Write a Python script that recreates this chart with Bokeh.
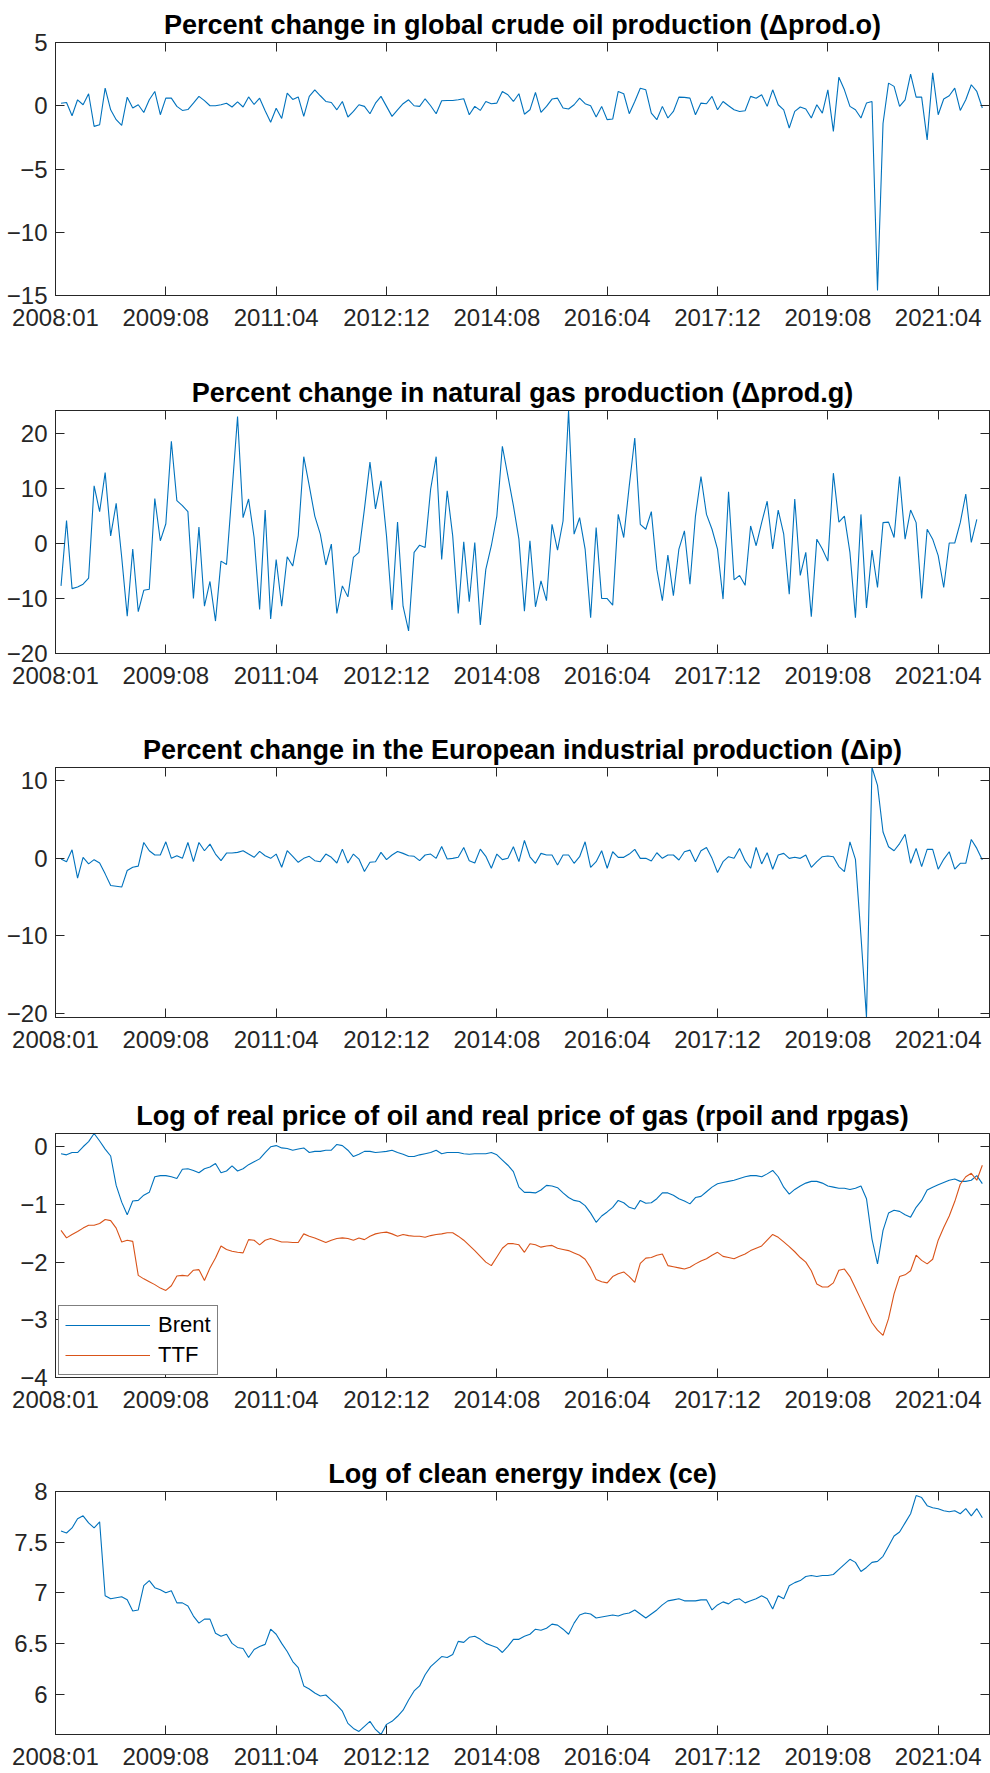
from bokeh.plotting import figure
from bokeh.layouts import column
from bokeh.models import Range1d, FixedTicker, LinearAxis, CustomJSTickFormatter
from bokeh.embed import file_html
from bokeh.resources import INLINE

# ---------------- data ----------------
tick_pos = [0, 20, 40, 60, 80, 100, 120, 140, 160]
tick_labels = ["2008:01", "2009:08", "2011:04", "2012:12", "2014:08",
               "2016:04", "2017:12", "2019:08", "2021:04"]

oil_prod = [0.2, 0.26, -0.79, 0.47, 0.08, 0.95, -1.63, -1.5, 1.39, -0.32,
            -1.1, -1.55, 0.68, -0.18, 0.08, -0.53, 0.47, 1.13, -0.71, 0.6,
            0.6, -0.05, -0.37, -0.3, 0.2, 0.74, 0.4, 0.0, 0.0, 0.08,
            0.2, -0.1, 0.3, -0.1, 0.7, 0.1, 0.6, -0.4, -1.3, -0.2,
            -1.0, 1.0, 0.5, 0.7, -0.84, 0.74, 1.26, 0.79, 0.34, 0.26,
            -0.32, 0.34, -0.89, -0.45, 0.08, -0.05, -0.63, 0.2, 0.74, -0.05,
            -0.84, -0.32, 0.16, 0.47, 0.0, -0.05, 0.55, 0.0, -0.63, 0.39,
            0.42, 0.42, 0.47, 0.55, -0.71, -0.05, -0.37, 0.34, 0.16, 0.21,
            1.13, 0.87, 0.34, 0.95, -0.67, -0.32, 1.05, -0.53, -0.05, 0.53,
            0.6, -0.18, -0.26, 0.08, 0.6, 0.16, 0.0, -0.89, -0.05, -1.1,
            -1.05, 1.13, 0.95, -0.63, 0.34, 1.39, 1.26, -0.58, -1.1, -0.05,
            -0.97, -0.45, 0.68, 0.66, 0.6, -0.71, 0.21, 0.16, 0.74, -0.32,
            0.34, 0.0, -0.32, -0.45, -0.39, 0.74, 0.6, 0.87, -0.05, 1.26,
            0.08, -0.32, -1.76, -0.45, -0.1, -0.26, -0.97, 0.08, -0.58, 1.26,
            -2.03, 2.26, 1.26, -0.05, -0.32, -0.97, 0.21, 0.34, -14.6, -1.4,
            1.79, 1.53, -0.05, 0.47, 2.5, 0.68, 0.68, -2.7, 2.6, -0.71,
            0.53, 0.79, 1.39, -0.37, 0.47, 1.66, 1.13, -0.18]

gas_prod = [-7.7, 4.2, -8.2, -7.9, -7.4, -6.3, 10.5, 5.8, 12.9, 1.4,
            7.3, -2.5, -13.2, -1.0, -12.4, -8.5, -8.3, 8.2, 0.5, 3.6,
            18.6, 7.8, 6.9, 5.8, -10.0, 3.0, -11.4, -6.9, -14.1, -3.2,
            -3.8, 9.5, 23.1, 4.7, 8.1, 1.1, -12.0, 6.1, -13.7, -2.9,
            -11.4, -2.4, -4.1, 1.4, 15.8, 10.5, 5.0, 1.7, -3.9, -0.1,
            -12.7, -7.7, -9.7, -2.5, -1.6, 6.3, 14.8, 6.3, 11.4, 1.4,
            -12.1, 3.9, -11.4, -15.9, -1.6, -0.3, -0.7, 9.9, 15.8, -2.9,
            9.6, 1.4, -12.7, 0.3, -10.6, 0.2, -14.8, -4.7, -0.4, 5.0,
            17.7, 12.3, 6.9, 0.8, -12.3, 0.5, -11.5, -6.8, -10.4, 3.5,
            -1.2, 4.1, 24.2, 1.7, 4.7, -1.0, -13.5, 2.9, -10.0, -10.0,
            -11.2, 5.3, 1.1, 10.5, 19.2, 3.5, 2.6, 5.8, -4.7, -10.4,
            -2.1, -9.5, -1.0, 2.3, -7.4, 5.0, 12.2, 5.3, 2.6, -1.0,
            -10.1, 9.4, -6.6, -5.8, -7.6, 3.2, -0.4, 3.8, 7.7, -1.0,
            6.1, 1.7, -9.2, 8.1, -5.8, -1.6, -13.3, 0.8, -1.0, -3.2,
            12.8, 3.9, 5.0, -1.6, -13.5, 5.3, -11.7, -1.2, -8.0, 3.8,
            3.9, 1.1, 12.2, 0.8, 6.1, 3.8, -10.0, 2.6, 0.8, -2.2,
            -8.0, 0.1, 0.1, 3.8, 9.0, 0.2, 4.4]

ind_prod = [-0.09, -0.43, 1.1, -2.55, 0.13, -0.72, -0.17, -0.6, -2.0, -3.5,
            -3.6, -3.7, -1.57, -1.15, -1.0, 2.04, 0.98, 0.43, 0.43, 2.13,
            0.0, 0.34, 0.0, 2.04, -0.43, 2.04, 0.98, 1.83, 0.55, -0.3,
            0.68, 0.68, 0.77, 0.98, 0.55, 0.13, 0.89, 0.34, 0.0, 0.55,
            -1.15, 0.98, 0.26, -0.51, 0.0, 0.26, -0.3, -0.43, 0.55, 0.13,
            -0.6, 1.19, -0.6, 0.55, -0.09, -1.7, -0.51, -0.43, 0.77, -0.17,
            0.43, 0.89, 0.64, 0.34, 0.26, -0.3, 0.43, 0.55, 0.0, 1.53,
            -0.09, 0.0, 0.13, 1.4, -0.3, -0.6, 1.19, 0.26, -1.28, 0.55,
            -0.17, 0.0, 1.5, -0.43, 2.3, 0.2, -0.64, 0.64, 0.43, 0.43,
            -0.85, 0.43, 0.43, -0.64, 0.21, 2.13, -1.15, -0.43, 0.98, -1.28,
            0.85, 0.13, 0.13, 0.55, 1.15, 0.0, 0.0, -0.34, 0.72, 0.0,
            0.43, 0.43, -0.21, 0.85, 1.06, -0.43, 0.98, 1.4, 0.0, -1.83,
            -0.43, 0.21, 0.0, 1.28, -0.3, -1.28, 1.4, -0.72, 0.72, -1.4,
            0.43, 0.64, 0.0, 0.13, 0.0, 0.43, -1.15, -0.43, 0.21, 0.3,
            0.21, -1.06, -1.7, 2.13, -0.13, -10.0, -20.5, 11.7, 9.4, 3.4,
            1.5, 0.98, 1.9, 3.1, -0.64, 1.28, -1.06, 1.15, 1.15, -1.4,
            -0.13, 0.85, -1.4, -0.64, -0.64, 2.43, 1.28, -0.21]

brent = [-0.12, -0.14, -0.10, -0.10, 0.0, 0.09, 0.23, 0.10, -0.04, -0.16,
         -0.67, -0.96, -1.18, -0.94, -0.93, -0.84, -0.79, -0.52, -0.50, -0.50,
         -0.52, -0.55, -0.39, -0.38, -0.41, -0.45, -0.38, -0.35, -0.29, -0.45,
         -0.42, -0.33, -0.42, -0.38, -0.31, -0.26, -0.21, -0.10, 0.0, 0.02,
         -0.02, -0.03, -0.06, -0.04, -0.02, -0.10, -0.08, -0.08, -0.06, -0.06,
         0.04, 0.02, -0.06, -0.17, -0.13, -0.08, -0.08, -0.10, -0.09, -0.08,
         -0.06, -0.10, -0.13, -0.17, -0.17, -0.14, -0.12, -0.10, -0.06, -0.12,
         -0.10, -0.10, -0.10, -0.12, -0.13, -0.12, -0.12, -0.12, -0.10, -0.14,
         -0.23, -0.32, -0.43, -0.70, -0.79, -0.79, -0.80, -0.75, -0.67, -0.68,
         -0.71, -0.80, -0.88, -0.93, -0.95, -1.02, -1.15, -1.31, -1.20, -1.13,
         -1.05, -0.93, -0.97, -1.05, -1.08, -0.93, -0.98, -0.97, -0.90, -0.80,
         -0.80, -0.84, -0.90, -0.94, -0.99, -0.88, -0.86, -0.78, -0.70, -0.64,
         -0.62, -0.60, -0.58, -0.55, -0.52, -0.50, -0.50, -0.52, -0.47, -0.41,
         -0.52, -0.70, -0.82, -0.74, -0.68, -0.63, -0.60, -0.60, -0.63, -0.68,
         -0.70, -0.72, -0.72, -0.74, -0.72, -0.68, -0.90, -1.60, -2.03, -1.45,
         -1.15, -1.10, -1.12, -1.18, -1.22, -1.05, -0.93, -0.75, -0.70, -0.66,
         -0.62, -0.58, -0.56, -0.60, -0.60, -0.58, -0.50, -0.64]

ttf = [-1.45, -1.58, -1.52, -1.47, -1.41, -1.36, -1.36, -1.33, -1.26, -1.28,
       -1.41, -1.65, -1.62, -1.64, -2.23, -2.29, -2.34, -2.39, -2.45, -2.49,
       -2.41, -2.24, -2.23, -2.24, -2.14, -2.13, -2.32, -2.10, -1.93, -1.72,
       -1.78, -1.81, -1.83, -1.84, -1.61, -1.62, -1.70, -1.62, -1.59, -1.62,
       -1.65, -1.65, -1.66, -1.66, -1.51, -1.55, -1.58, -1.62, -1.66, -1.62,
       -1.59, -1.58, -1.59, -1.62, -1.58, -1.61, -1.55, -1.51, -1.49, -1.48,
       -1.51, -1.55, -1.52, -1.54, -1.55, -1.55, -1.57, -1.54, -1.52, -1.51,
       -1.49, -1.49, -1.55, -1.62, -1.71, -1.80, -1.90, -2.00, -2.06, -1.91,
       -1.76, -1.68, -1.68, -1.70, -1.83, -1.68, -1.70, -1.74, -1.72, -1.71,
       -1.76, -1.78, -1.80, -1.84, -1.88, -1.95, -2.10, -2.30, -2.34, -2.36,
       -2.25, -2.20, -2.17, -2.25, -2.35, -2.02, -1.93, -1.92, -1.88, -1.86,
       -2.06, -2.08, -2.10, -2.12, -2.09, -2.03, -1.98, -1.94, -1.88, -1.83,
       -1.90, -1.92, -1.94, -1.90, -1.86, -1.80, -1.76, -1.72, -1.62, -1.52,
       -1.57, -1.65, -1.73, -1.82, -1.92, -2.00, -2.15, -2.38, -2.43, -2.43,
       -2.36, -2.14, -2.12, -2.25, -2.45, -2.65, -2.85, -3.05, -3.18, -3.27,
       -2.98, -2.55, -2.25, -2.22, -2.15, -1.88, -1.97, -2.03, -1.95, -1.62,
       -1.40, -1.20, -0.95, -0.65, -0.52, -0.46, -0.58, -0.32]

clean_energy = [7.61, 7.59, 7.64, 7.73, 7.76, 7.69, 7.64, 7.70, 6.97, 6.94,
                6.95, 6.96, 6.93, 6.82, 6.83, 7.07, 7.12, 7.05, 7.03, 7.00,
                7.02, 6.90, 6.90, 6.87, 6.77, 6.70, 6.74, 6.74, 6.60, 6.57,
                6.59, 6.50, 6.46, 6.45, 6.36, 6.44, 6.47, 6.49, 6.64, 6.59,
                6.50, 6.42, 6.32, 6.26, 6.08, 6.05, 6.01, 5.98, 5.99, 5.94,
                5.89, 5.83, 5.71, 5.66, 5.63, 5.68, 5.73, 5.65, 5.60, 5.70,
                5.73, 5.78, 5.84, 5.94, 6.03, 6.08, 6.19, 6.27, 6.32, 6.37,
                6.36, 6.39, 6.52, 6.51, 6.56, 6.57, 6.54, 6.50, 6.48, 6.46,
                6.41, 6.47, 6.54, 6.54, 6.57, 6.59, 6.64, 6.63, 6.65, 6.69,
                6.68, 6.64, 6.59, 6.70, 6.78, 6.80, 6.79, 6.75, 6.76, 6.77,
                6.78, 6.77, 6.79, 6.80, 6.83, 6.79, 6.75, 6.79, 6.83, 6.88,
                6.92, 6.93, 6.94, 6.92, 6.92, 6.92, 6.93, 6.93, 6.83, 6.88,
                6.91, 6.89, 6.93, 6.94, 6.90, 6.92, 6.94, 6.97, 6.94, 6.84,
                6.97, 6.94, 7.07, 7.10, 7.12, 7.16, 7.17, 7.16, 7.17, 7.17,
                7.18, 7.23, 7.28, 7.33, 7.30, 7.21, 7.25, 7.30, 7.31, 7.36,
                7.46, 7.56, 7.60, 7.69, 7.78, 7.96, 7.94, 7.86, 7.84, 7.83,
                7.81, 7.80, 7.81, 7.78, 7.83, 7.76, 7.83, 7.74]

# ---------------- styling ----------------
FONT = "Liberation Sans"
AX = "#262626"
BLUE = "#0072BD"
ORANGE = "#D95319"
TICK_FS = "24px"
TITLE_FS = "27px"
MINUS = "\u2212"

blank = CustomJSTickFormatter(code="return ''")


def make_fig(title, top, frame_h, bottom, yr, yticks, ylabels):
    p = figure(width=990, height=top + frame_h + bottom,
               x_range=Range1d(0, 169.3), y_range=Range1d(*yr),
               output_backend="svg", toolbar_location=None,
               min_border_left=55, min_border_right=1,
               min_border_top=top, min_border_bottom=bottom,
               title=title)
    p.background_fill_color = "white"
    p.border_fill_color = "white"
    p.outline_line_color = AX
    p.outline_line_width = 1
    p.grid.visible = False
    p.title.align = "center"
    p.title.text_font = FONT
    p.title.text_font_style = "bold"
    p.title.text_font_size = TITLE_FS
    p.title.text_color = "black"
    p.title.standoff = 5

    xa = p.xaxis[0]
    xa.ticker = FixedTicker(ticks=tick_pos)
    xa.major_label_overrides = {pos: lab for pos, lab in zip(tick_pos, tick_labels)}
    ya = p.yaxis[0]
    ya.ticker = FixedTicker(ticks=yticks)
    ya.major_label_overrides = {t: l.replace("-", MINUS) for t, l in zip(yticks, ylabels)}
    for ax in (xa, ya):
        ax.axis_line_color = AX
        ax.major_tick_line_color = AX
        ax.major_tick_in = 9
        ax.major_tick_out = 0
        ax.minor_tick_line_color = None
        ax.major_label_text_font = FONT
        ax.major_label_text_font_size = TICK_FS
        ax.major_label_text_color = AX
    xa.major_label_standoff = 8
    ya.major_label_standoff = 8

    top_ax = LinearAxis(ticker=FixedTicker(ticks=tick_pos), formatter=blank)
    right_ax = LinearAxis(ticker=FixedTicker(ticks=yticks), formatter=blank)
    for ax in (top_ax, right_ax):
        ax.axis_line_color = AX
        ax.major_tick_line_color = AX
        ax.major_tick_in = 9
        ax.major_tick_out = 0
        ax.minor_tick_line_color = None
        ax.major_label_standoff = 0
        ax.major_label_text_font_size = "1px"
    p.add_layout(top_ax, "above")
    p.add_layout(right_ax, "right")
    return p


def xs(series):
    return list(range(1, len(series) + 1))


p1 = make_fig("Percent change in global crude oil production (\u0394prod.o)",
              42, 253, 65, (-15, 5), [-15, -10, -5, 0, 5],
              ["-15", "-10", "-5", "0", "5"])
p1.line(xs(oil_prod), oil_prod, line_color=BLUE, line_width=1.1)

p2 = make_fig("Percent change in natural gas production (\u0394prod.g)",
              50, 243, 67, (-20, 24.2), [-20, -10, 0, 10, 20],
              ["-20", "-10", "0", "10", "20"])
p2.line(xs(gas_prod), gas_prod, line_color=BLUE, line_width=1.1)

p3 = make_fig("Percent change in the European industrial production (\u0394ip)",
              47, 250, 68, (-20.5, 11.7), [-20, -10, 0, 10],
              ["-20", "-10", "0", "10"])
p3.line(xs(ind_prod), ind_prod, line_color=BLUE, line_width=1.1)

p4 = make_fig("Log of real price of oil and real price of gas (rpoil and rpgas)",
              48, 244, 63, (-4, 0.23), [-4, -3, -2, -1, 0],
              ["-4", "-3", "-2", "-1", "0"])
p4.line(xs(brent), brent, line_color=BLUE, line_width=1.1, legend_label="Brent")
p4.line(xs(ttf), ttf, line_color=ORANGE, line_width=1.1, legend_label="TTF")
lg = p4.legend[0]
lg.location = (3, 2)
lg.border_line_color = "black"
lg.border_line_width = 1
lg.background_fill_color = "white"
lg.background_fill_alpha = 1
lg.label_text_font = FONT
lg.label_text_font_size = "22px"
lg.label_text_color = "black"
lg.glyph_width = 85
lg.glyph_height = 26
lg.label_height = 26
lg.label_standoff = 8
lg.spacing = 4
lg.padding = 6
lg.margin = 0

p5 = make_fig("Log of clean energy index (ce)",
              51, 243, 39, (5.6, 8), [6, 6.5, 7, 7.5, 8],
              ["6", "6.5", "7", "7.5", "8"])
p5.line(xs(clean_energy), clean_energy, line_color=BLUE, line_width=1.1)

layout = column(p1, p2, p3, p4, p5, spacing=0)
open("out.html", "w").write(file_html(layout, INLINE))
